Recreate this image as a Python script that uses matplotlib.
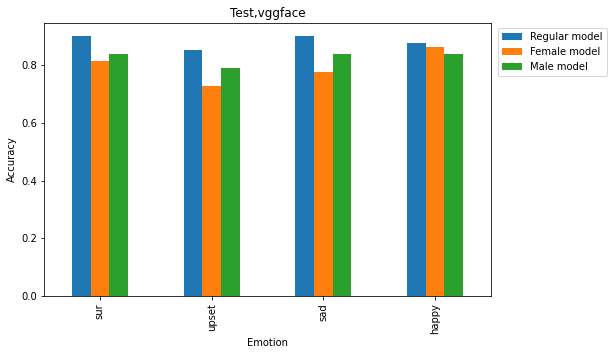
import matplotlib
matplotlib.use("Agg")
import matplotlib.pyplot as plt
import pandas as pd

emotions = ["sur", "upset", "sad", "happy"]
regular = [0.901, 0.852, 0.901, 0.877]
female = [0.814, 0.727, 0.776, 0.863]
male = [0.838, 0.790, 0.838, 0.838]

df = pd.DataFrame({"Regular model": regular, "Female model": female, "Male model": male},
                  index=pd.Index(emotions, name="Emotion"))

fig = plt.figure(figsize=(613/72, 354/72), dpi=72)
ax = fig.add_axes([44/613, (354-296)/354, (491-44)/613, (296-23)/354])
df.plot.bar(ax=ax)
ax.set_title("Test,vggface")
ax.set_ylabel("Accuracy")
ax.set_xlabel("Emotion")
ax.legend(loc="upper left", bbox_to_anchor=(1.0 + 2/447, 1.0))
fig.savefig("out.png", dpi=72)
